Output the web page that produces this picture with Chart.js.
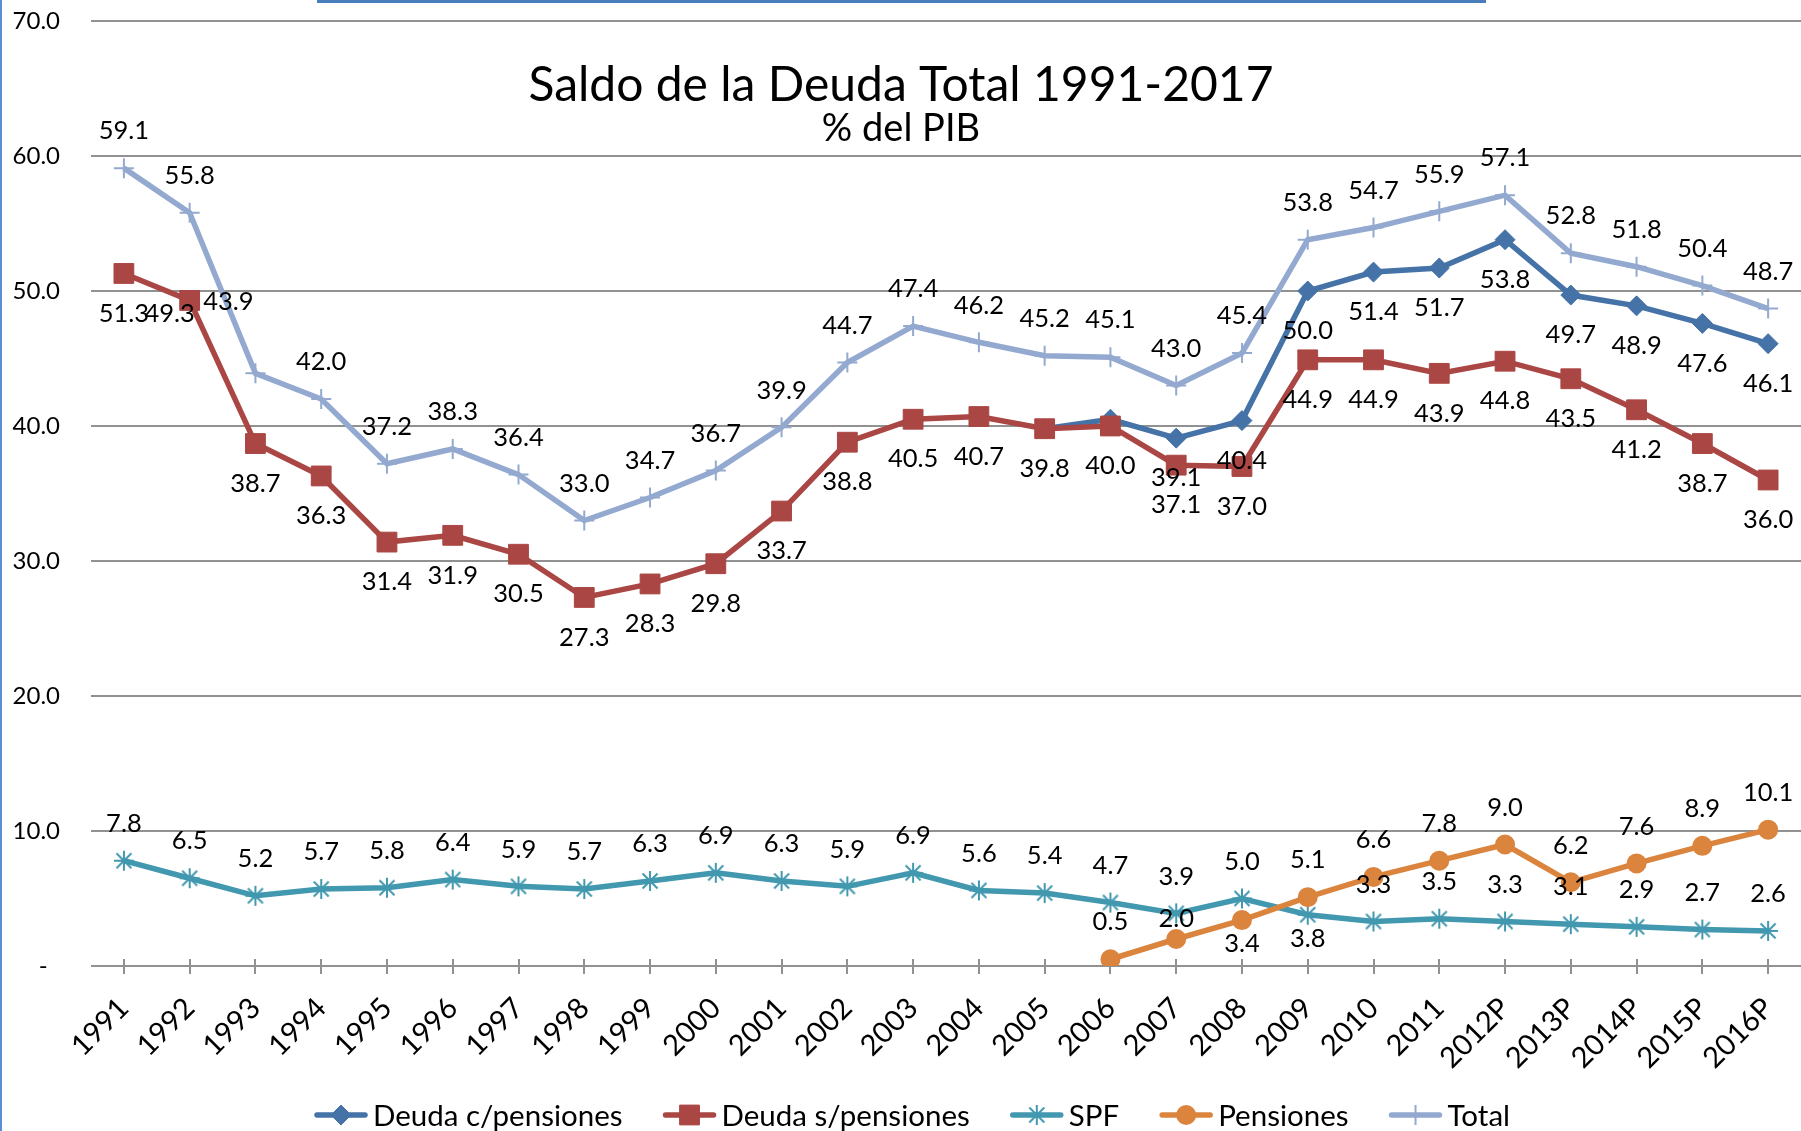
<!DOCTYPE html>
<html>
<head>
<meta charset="utf-8">
<script src="https://cdn.jsdelivr.net/npm/chart.js@4.4.0/dist/chart.umd.min.js"></script>
<style>
html,body{margin:0;padding:0;background:#fff;}
#wrap{position:relative;width:1801px;height:1131px;overflow:hidden;background:#fff;}
canvas{display:block;}
#bl{position:absolute;left:0;top:0;width:2px;height:1131px;background:#5b8fd3;}
#bt{position:absolute;left:317px;top:0;width:1169px;height:3px;background:#4a7ebb;}
</style>
</head>
<body>
<div id="wrap">
<canvas id="c" width="1801" height="1131"></canvas>
<div id="bl"></div><div id="bt"></div>
</div>
<script>
// ---------- data ----------
const categories = ['1991','1992','1993','1994','1995','1996','1997','1998','1999','2000','2001','2002','2003','2004','2005','2006','2007','2008','2009','2010','2011','2012P','2013P','2014P','2015P','2016P'];
const deudaConPensiones = [null,null,null,null,null,null,null,null,null,null,null,null,null,null,39.8,40.5,39.1,40.4,50.0,51.4,51.7,53.8,49.7,48.9,47.6,46.1];
const deudaSinPensiones = [51.3,49.3,38.7,36.3,31.4,31.9,30.5,27.3,28.3,29.8,33.7,38.8,40.5,40.7,39.8,40.0,37.1,37.0,44.9,44.9,43.9,44.8,43.5,41.2,38.7,36.0];
const spf = [7.8,6.5,5.2,5.7,5.8,6.4,5.9,5.7,6.3,6.9,6.3,5.9,6.9,5.6,5.4,4.7,3.9,5.0,3.8,3.3,3.5,3.3,3.1,2.9,2.7,2.6];
const pensiones = [null,null,null,null,null,null,null,null,null,null,null,null,null,null,null,0.5,2.0,3.4,5.1,6.6,7.8,9.0,6.2,7.6,8.9,10.1];
const total = [59.1,55.8,43.9,42.0,37.2,38.3,36.4,33.0,34.7,36.7,39.9,44.7,47.4,46.2,45.2,45.1,43.0,45.4,53.8,54.7,55.9,57.1,52.8,51.8,50.4,48.7];
const seriesNames = ['Deuda c/pensiones','Deuda s/pensiones','SPF','Pensiones','Total'];
const yTickLabels = ['-  ','10.0','20.0','30.0','40.0','50.0','60.0','70.0'];
const titleText = 'Saldo de la Deuda Total 1991-2017';
const subtitleText = '% del PIB';

// label placement codes per point (T above, B below, t near above, b near below, L left-below, U high-left, N none)
const labelPlacement = [
  'NNNNNNNNNNNNNNNNBBBBBBBBBB',
  'BLBBBBBBBBBBBBBBBBBBBBBBBB',
  'TTTTTTTTTTTTTTTTTTbTTTTTTT',
  'NNNNNNNNNNNNNNNTtbTTTTTTTT',
  'TTUTTTTTTTTTTTTTTTTTTTTTTT'
];
const placementOffset = {T:[0,-37],B:[0,40],t:[0,-20],b:[0,24],L:[-20,13],U:[-27,-72]};

// ---------- styles ----------
const FONT = 'Lato';
const C_BLUE = '#4572A7', C_RED = '#AA4643', C_SPF = '#4198AF', C_ORANGE = '#DB843D', C_TOTAL = '#93A9CF';
const GRID = '#919191';
const AREA = {left: 91, right: 1801, top: 21, bottom: 966};

const starMarker = (() => {
  const c = document.createElement('canvas');
  c.width = 22; c.height = 22;
  const g = c.getContext('2d');
  g.strokeStyle = C_SPF; g.lineWidth = 2;
  g.beginPath();
  g.moveTo(11, 1); g.lineTo(11, 21);
  g.moveTo(3.5, 3.5); g.lineTo(18.5, 18.5);
  g.moveTo(18.5, 3.5); g.lineTo(3.5, 18.5);
  g.moveTo(1, 11); g.lineTo(21, 11);
  g.stroke();
  return c;
})();

function ds(label, data, color, pointStyle, radius, bw, order, fill) {
  return {
    label, data, order,
    borderColor: color, backgroundColor: fill ? color : 'rgba(0,0,0,0)',
    borderWidth: 5.5, tension: 0, spanGaps: false,
    pointStyle, pointRadius: radius, pointHoverRadius: radius,
    pointBorderWidth: bw, pointBorderColor: color,
    pointBackgroundColor: fill ? color : 'rgba(0,0,0,0)'
  };
}

const datasets = [
  ds(seriesNames[0], deudaConPensiones, C_BLUE, 'rectRot', 10, 1, 5, true),
  ds(seriesNames[1], deudaSinPensiones, C_RED, 'rect', 14, 1, 4, true),
  ds(seriesNames[2], spf, C_SPF, starMarker, 10, 2, 3, false),
  ds(seriesNames[3], pensiones, C_ORANGE, 'circle', 9, 2, 2, true),
  ds(seriesNames[4], total, C_TOTAL, 'cross', 10, 2, 1, false)
];

const deco = {
  id: 'deco',
  afterLayout(chart) {
    const a = chart.chartArea, xs = chart.scales.x, ys = chart.scales.y;
    a.left = AREA.left; a.right = AREA.right; a.top = AREA.top; a.bottom = AREA.bottom;
    a.width = a.right - a.left; a.height = a.bottom - a.top;
    xs.left = AREA.left; xs.right = AREA.right; xs.width = a.width;
    xs.top = AREA.bottom; xs.bottom = chart.height; xs.height = xs.bottom - xs.top;
    ys.left = 0; ys.right = AREA.left; ys.width = AREA.left;
    ys.top = AREA.top; ys.bottom = AREA.bottom; ys.height = a.height;
    xs.configure(); ys.configure();
  },
  beforeDatasetsDraw(chart) {
    const ctx = chart.ctx, xs = chart.scales.x, b = chart.chartArea.bottom;
    ctx.save();
    ctx.strokeStyle = GRID; ctx.lineWidth = 2;
    xs.ticks.forEach((t, i) => {
      const x = Math.round(xs.getPixelForTick(i));
      ctx.beginPath(); ctx.moveTo(x, b - 7); ctx.lineTo(x, b + 8); ctx.stroke();
    });
    ctx.restore();
  },
  afterDatasetsDraw(chart) {
    const ctx = chart.ctx;
    ctx.save();
    ctx.font = '25.5px ' + FONT;
    ctx.fillStyle = '#000';
    ctx.textAlign = 'center';
    ctx.textBaseline = 'middle';
    chart.data.datasets.forEach((d, i) => {
      const meta = chart.getDatasetMeta(i);
      d.data.forEach((v, j) => {
        if (v === null || v === undefined) return;
        const code = labelPlacement[i][j];
        if (code === 'N') return;
        const off = placementOffset[code];
        const p = meta.data[j];
        ctx.fillText(v.toFixed(1), p.x + off[0], p.y + off[1]);
      });
    });
    ctx.restore();
  },
  afterDraw(chart) {
    const ctx = chart.ctx;
    ctx.save();
    ctx.fillStyle = '#000';
    ctx.textAlign = 'center';
    ctx.textBaseline = 'alphabetic';
    ctx.font = '48px ' + FONT;
    ctx.fillText(titleText, 901, 101);
    ctx.font = '38px ' + FONT;
    ctx.fillText(subtitleText, 901, 141);

    // legend
    ctx.font = '29.5px ' + FONT;
    const lineLen = 54, gapText = 5, gapItem = 40;
    const widths = chart.data.datasets.map(d => ctx.measureText(d.label).width);
    let totalW = 0;
    widths.forEach((w, i) => { totalW += lineLen + gapText + w + (i < widths.length - 1 ? gapItem : 0); });
    let x = 912 - totalW / 2;
    const y = 1115;
    ctx.textAlign = 'left';
    ctx.textBaseline = 'middle';
    chart.data.datasets.forEach((d, i) => {
      ctx.strokeStyle = d.borderColor;
      ctx.lineWidth = 5.5;
      ctx.lineCap = 'round';
      ctx.beginPath(); ctx.moveTo(x + 3, y); ctx.lineTo(x + lineLen - 3, y); ctx.stroke();
      ctx.lineCap = 'butt';
      ctx.fillStyle = d.pointBackgroundColor;
      ctx.strokeStyle = d.pointBorderColor;
      ctx.lineWidth = d.pointBorderWidth;
      Chart.helpers.drawPoint(ctx, {pointStyle: d.pointStyle, radius: d.pointRadius, rotation: 0, borderWidth: d.pointBorderWidth}, x + lineLen / 2, y);
      ctx.fillStyle = '#000';
      ctx.fillText(d.label, x + lineLen + gapText, y + 1);
      x += lineLen + gapText + widths[i] + gapItem;
    });
    ctx.restore();
  }
};

new Chart(document.getElementById('c'), {
  type: 'line',
  data: { labels: categories, datasets },
  plugins: [deco],
  options: {
    responsive: false,
    animation: false,
    devicePixelRatio: 1,
    layout: { padding: { top: 21, right: 0, bottom: 0, left: 0 } },
    plugins: { legend: { display: false }, tooltip: { enabled: false }, title: { display: false } },
    scales: {
      x: {
        type: 'category',
        offset: true,
        grid: { display: false, drawTicks: false },
        border: { display: false },
        ticks: { autoSkip: false, minRotation: 45, maxRotation: 45, padding: 25, color: '#000', font: { family: FONT, size: 29 } },
        afterFit(s) { s.height = 165; s.paddingLeft = 0; s.paddingRight = 0; }
      },
      y: {
        min: 0, max: 70,
        grid: { color: GRID, lineWidth: 2, drawTicks: false },
        border: { display: false },
        ticks: { stepSize: 10, padding: 31, color: '#000', font: { family: FONT, size: 24 },
          callback: (v, i) => yTickLabels[i] },
        afterFit(s) { s.width = 91; s.paddingTop = 0; s.paddingBottom = 0; }
      }
    }
  }
});
</script>
</body>
</html>
